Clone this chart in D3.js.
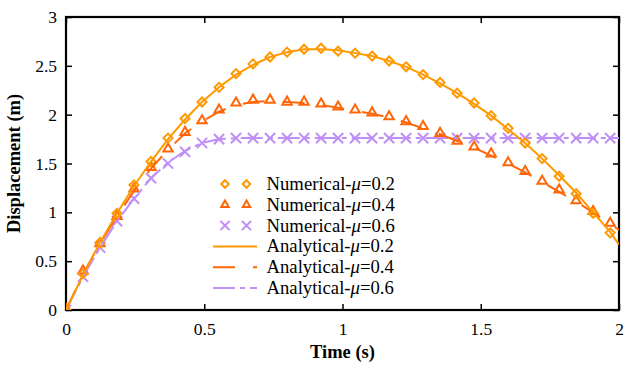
<!DOCTYPE html>
<html>
<head>
<meta charset="utf-8">
<script src="https://cdn.jsdelivr.net/npm/d3@7"></script>
<style>
  body { margin: 0; background: #fff; }
  text { font-family: "Liberation Serif", "Times New Roman", serif; }
</style>
</head>
<body>
<svg class="dp-chart"></svg>
<script>
// sample times of the numerical solution (s)
let timeNum = [0, 0.0615, 0.123, 0.1845, 0.246, 0.3075, 0.369, 0.4305, 0.492, 0.5535, 0.615,
  0.6765, 0.738, 0.7995, 0.861, 0.9225, 0.984, 1.0455, 1.107, 1.1685, 1.23, 1.2915, 1.353,
  1.4145, 1.476, 1.5375, 1.599, 1.6605, 1.722, 1.7835, 1.845, 1.9065, 1.968];
// analytical curves go on to the end of the axis
let timeAna = timeNum.concat([2]);

let numMu02 = [0, 0.37, 0.69, 0.99, 1.28, 1.52, 1.76, 1.96, 2.13, 2.28, 2.42, 2.52, 2.59, 2.64,
  2.67, 2.68, 2.65, 2.63, 2.60, 2.55, 2.49, 2.41, 2.33, 2.22, 2.12, 1.99, 1.86, 1.71, 1.55,
  1.37, 1.19, 0.99, 0.79];
let numMu04 = [0, 0.39, 0.67, 0.95, 1.23, 1.45, 1.64, 1.81, 1.93, 2.04, 2.11, 2.14, 2.14, 2.12,
  2.12, 2.10, 2.07, 2.04, 2.01, 1.97, 1.92, 1.87, 1.80, 1.72, 1.66, 1.59, 1.50, 1.41, 1.31,
  1.22, 1.11, 1.00, 0.88];
let numMu06 = [0, 0.34, 0.64, 0.91, 1.14, 1.35, 1.50, 1.62, 1.71, 1.75, 1.76, 1.76, 1.76, 1.76,
  1.76, 1.76, 1.76, 1.76, 1.76, 1.76, 1.76, 1.76, 1.76, 1.76, 1.76, 1.76, 1.76, 1.76, 1.76,
  1.76, 1.76, 1.76, 1.76];

let anaMu02 = [0, 0.36, 0.69, 0.99, 1.27, 1.52, 1.75, 1.95, 2.13, 2.28, 2.41, 2.51, 2.59, 2.64,
  2.67, 2.67, 2.66, 2.63, 2.60, 2.55, 2.49, 2.41, 2.32, 2.22, 2.11, 1.99, 1.85, 1.71, 1.55,
  1.38, 1.20, 1.00, 0.80, 0.67];
let anaMu04 = [0, 0.37, 0.68, 0.96, 1.22, 1.45, 1.64, 1.81, 1.93, 2.03, 2.10, 2.13, 2.14, 2.13,
  2.12, 2.10, 2.07, 2.04, 2.01, 1.97, 1.92, 1.86, 1.80, 1.73, 1.66, 1.58, 1.50, 1.41, 1.31,
  1.21, 1.11, 1.00, 0.88, 0.82];
let anaMu06 = [0, 0.34, 0.64, 0.91, 1.14, 1.35, 1.51, 1.63, 1.71, 1.75, 1.76, 1.76, 1.76, 1.76,
  1.76, 1.76, 1.76, 1.76, 1.76, 1.76, 1.76, 1.76, 1.76, 1.76, 1.76, 1.76, 1.76, 1.76, 1.76,
  1.76, 1.76, 1.76, 1.76, 1.76];

let xTicks = [0, 0.5, 1, 1.5, 2];
let yTicks = [0, 0.5, 1, 1.5, 2, 2.5, 3];
let xTickLabels = ['0', '0.5', '1', '1.5', '2'];
let yTickLabels = ['0', '0.5', '1', '1.5', '2', '2.5', '3'];

let colors = {mu02: '#ff9900', mu04: '#ff6608', mu06: '#bf8ff7'};

let margin = {top: 17, right: 5, bottom: 57, left: 66},
  width = 624 - margin.left - margin.right,
  height = 367 - margin.top - margin.bottom;

let svg = d3.select('.dp-chart')
  .attr('width', 624)
  .attr('height', 367)
  .append('g')
  .attr('transform', 'translate(' + margin.left + ',' + margin.top + ')');

let x = d3.scaleLinear().domain([0, 2]).range([0, width]);
let y = d3.scaleLinear().domain([0, 3]).range([height, 0]);

svg.append('clipPath').attr('id', 'dp-clip')
  .append('rect').attr('width', width).attr('height', height);

// ticks on all four sides, pointing inwards
let tickLen = 6;
svg.append('g')
  .attr('transform', 'translate(0,' + height + ')')
  .call(d3.axisBottom(x).tickValues(xTicks).tickSize(-tickLen).tickPadding(13)
    .tickFormat((d, i) => xTickLabels[i]));
svg.append('g')
  .call(d3.axisTop(x).tickValues(xTicks).tickSize(-tickLen).tickFormat(''));
svg.append('g')
  .call(d3.axisLeft(y).tickValues(yTicks).tickSize(-tickLen).tickPadding(9)
    .tickFormat((d, i) => yTickLabels[i]));
svg.append('g')
  .attr('transform', 'translate(' + width + ',0)')
  .call(d3.axisRight(y).tickValues(yTicks).tickSize(-tickLen).tickFormat(''));

svg.selectAll('.domain').remove();
svg.selectAll('.tick line').attr('stroke', '#000').attr('stroke-width', 1.5);
svg.selectAll('.tick text')
  .attr('font-size', 17.5)
  .attr('fill', '#000')
  .style('font-family', '"Liberation Serif", serif');

svg.append('rect')
  .attr('width', width).attr('height', height)
  .attr('fill', 'none').attr('stroke', '#000').attr('stroke-width', 2.2);

// axis titles
svg.append('text')
  .attr('x', width / 2).attr('y', height + 48)
  .attr('text-anchor', 'middle')
  .attr('font-size', 18.5).attr('font-weight', 'bold')
  .text('Time (s)');
svg.append('text')
  .attr('transform', 'translate(' + (-46.5) + ',' + (height / 2) + ') rotate(-90)')
  .attr('text-anchor', 'middle')
  .attr('font-size', 18.5).attr('font-weight', 'bold')
  .text('Displacement (m)');

// markers
let symDiamond = d3.symbol().type(d3.symbolDiamond2).size(52);
let symTriangle = d3.symbol().type(d3.symbolTriangle2).size(62);
let symCross = d3.symbol().type(d3.symbolX).size(70);

let plot = svg.append('g').attr('clip-path', 'url(#dp-clip)');

let numSeries = [
  {vals: numMu02, sym: symDiamond, color: colors.mu02, dy: 0},
  {vals: numMu04, sym: symTriangle, color: colors.mu04, dy: -1},
  {vals: numMu06, sym: symCross, color: colors.mu06, dy: 0}
];
let anaSeries = [
  {vals: anaMu06, color: colors.mu06, dash: '22,5,5,5'},
  {vals: anaMu04, color: colors.mu04, dash: '22,18'},
  {vals: anaMu02, color: colors.mu02, dash: null}
];

let line = d3.line()
  .x((d, i) => x(timeAna[i]))
  .y(d => y(d));

numSeries.slice().reverse().forEach(function (s) {
  plot.append('g').selectAll('path')
    .data(s.vals)
    .enter().append('path')
    .attr('d', s.sym)
    .attr('transform', (d, i) => 'translate(' + x(timeNum[i]) + ',' + (y(d) + s.dy) + ')')
    .attr('fill', 'none')
    .attr('stroke', s.color)
    .attr('stroke-width', 2);
});

anaSeries.forEach(function (s) {
  plot.append('path')
    .datum(s.vals)
    .attr('d', line)
    .attr('fill', 'none')
    .attr('stroke', s.color)
    .attr('stroke-width', 2)
    .attr('stroke-dasharray', s.dash);
});

// legend
let legSymbols = [
  d3.symbol().type(d3.symbolDiamond2).size(36),
  d3.symbol().type(d3.symbolTriangle2).size(40),
  d3.symbol().type(d3.symbolX).size(55)
];
let legendItems = [
  {label: 'Numerical-', mu: '0.2', sym: legSymbols[0], color: colors.mu02},
  {label: 'Numerical-', mu: '0.4', sym: legSymbols[1], color: colors.mu04},
  {label: 'Numerical-', mu: '0.6', sym: legSymbols[2], color: colors.mu06},
  {label: 'Analytical-', mu: '0.2', dash: null, color: colors.mu02},
  {label: 'Analytical-', mu: '0.4', dash: '22,18', color: colors.mu04},
  {label: 'Analytical-', mu: '0.6', dash: '22,5,5,5', color: colors.mu06}
];
let legend = svg.append('g')
  .attr('transform', 'translate(' + (213 - margin.left) + ',' + (184 - margin.top) + ')');
let rowH = 20.8;
legendItems.forEach(function (d, i) {
  let row = legend.append('g').attr('transform', 'translate(0,' + (i * rowH) + ')');
  if (d.sym) {
    [12, 33.5].forEach(function (mx) {
      row.append('path')
        .attr('d', d.sym)
        .attr('transform', 'translate(' + mx + ',0)')
        .attr('fill', 'none').attr('stroke', d.color).attr('stroke-width', 2);
    });
  } else {
    row.append('line')
      .attr('x1', 0).attr('x2', 44)
      .attr('stroke', d.color).attr('stroke-width', 2)
      .attr('stroke-dasharray', d.dash);
  }
  let t = row.append('text')
    .attr('x', 53.5).attr('y', 6)
    .attr('font-size', 18.7);
  t.append('tspan').text(d.label);
  t.append('tspan').attr('font-style', 'italic').text('\u03bc');
  t.append('tspan').text('=' + d.mu);
});
</script>
</body>
</html>
